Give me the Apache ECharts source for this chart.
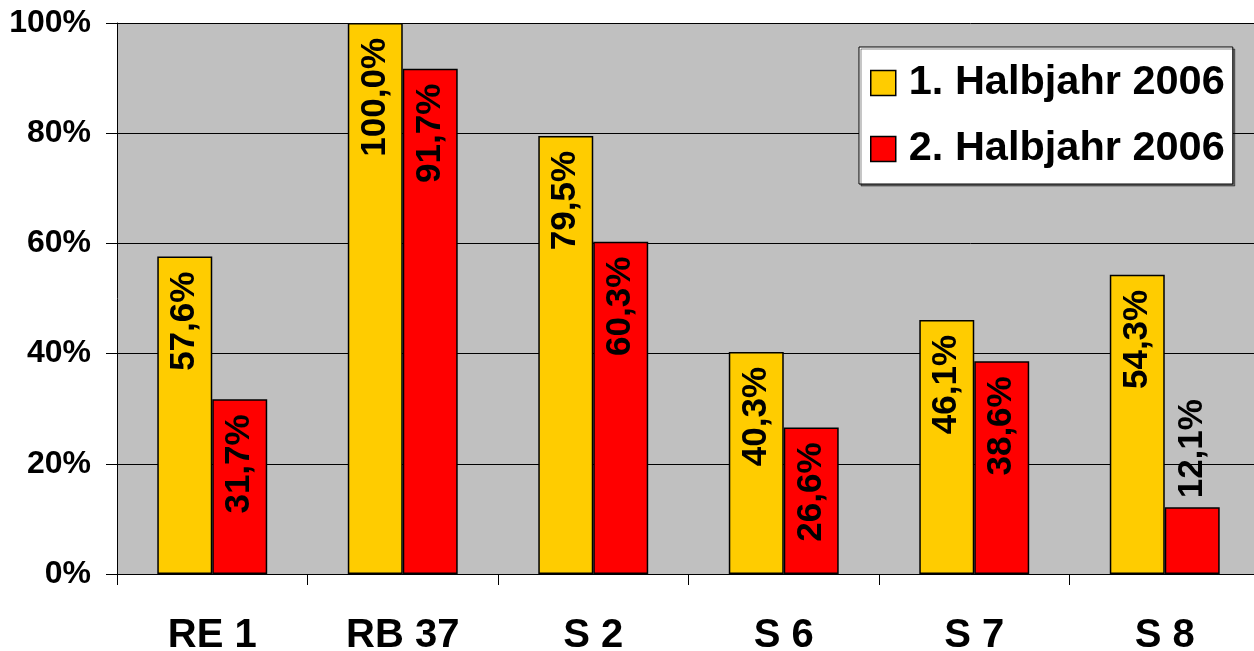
<!DOCTYPE html>
<html><head><meta charset="utf-8">
<script src="https://cdn.jsdelivr.net/npm/echarts@6/dist/echarts.min.js"></script>
<style>html,body{margin:0;padding:0;background:#fff;}#c{width:1254px;height:651px;}</style>
</head><body><div id="c"></div>
<script>
const categories = ['RE 1', 'RB 37', 'S 2', 'S 6', 'S 7', 'S 8'];
const seriesNames = ['1. Halbjahr 2006', '2. Halbjahr 2006'];
const firstHalf = [57.6, 100.0, 79.5, 40.3, 46.1, 54.3];
const secondHalf = [31.7, 91.7, 60.3, 26.6, 38.6, 12.1];
const yTicks = [0, 20, 40, 60, 80, 100];

const FONT = '"Liberation Sans", Arial, sans-serif';
const fmt = v => v.toFixed(1).replace('.', ',') + '%';

function labelFor(values) {
  return values.map(v => {
    const outside = v < 20;
    return {
      value: v,
      label: outside ? {
        position: 'top', rotate: 90, align: 'left', verticalAlign: 'middle', distance: 9
      } : {
        position: 'insideTop', rotate: 90, align: 'right', verticalAlign: 'middle', distance: 15
      }
    };
  });
}

const chart = echarts.init(document.getElementById('c'));
chart.setOption({
  animation: false,
  backgroundColor: '#fff',
  grid: {
    left: 117, right: -6, top: 23, bottom: 77,
    outerBoundsMode: 'none', containLabel: false,
    show: true, backgroundColor: '#C0C0C0', borderWidth: 0
  },
  legend: {
    show: true,
    left: 859, top: 47, orient: 'vertical',
    padding: [15, 8, 14, 11],
    itemWidth: 25, itemHeight: 25, itemGap: 24,
    backgroundColor: '#fff', borderColor: '#000', borderWidth: 1,
    shadowColor: 'rgba(0,0,0,0.45)', shadowOffsetX: 2, shadowOffsetY: 2,
    textStyle: { fontFamily: FONT, fontWeight: 'bold', fontSize: 41.5, color: '#000', padding: [0, 0, 0, 8] },
    data: seriesNames.map(n => ({ name: n, icon: 'rect' })),
    itemStyle: { borderColor: '#000', borderWidth: 1.5 }
  },
  xAxis: {
    type: 'category', data: categories,
    axisLine: { show: true, lineStyle: { color: '#000', width: 1 } },
    axisTick: { show: true, length: 11, lineStyle: { color: '#000' } },
    axisLabel: { margin: 42, fontFamily: FONT, fontWeight: 'bold', fontSize: 40, color: '#000' }
  },
  yAxis: {
    type: 'value', min: 0, max: 100, interval: 20,
    axisLine: { show: true, lineStyle: { color: '#000', width: 1 } },
    axisTick: { show: true, length: 11, lineStyle: { color: '#000' } },
    splitLine: { show: true, lineStyle: { color: '#000', width: 1 } },
    axisLabel: {
      margin: 26, fontFamily: FONT, fontWeight: 'bold', fontSize: 32, color: '#000',
      formatter: v => yTicks.includes(v) ? v + '%' : ''
    }
  },
  series: [
    {
      name: seriesNames[0], type: 'bar', data: labelFor(firstHalf),
      barGap: '0%', barCategoryGap: '42.3%',
      itemStyle: { color: '#FFCC00', borderColor: '#000', borderWidth: 1.5 },
      label: { show: true, fontFamily: FONT, fontWeight: 'bold', fontSize: 35, color: '#000', formatter: p => fmt(p.value) }
    },
    {
      name: seriesNames[1], type: 'bar', data: labelFor(secondHalf),
      barGap: '0%', barCategoryGap: '42.3%',
      itemStyle: { color: '#FF0000', borderColor: '#000', borderWidth: 1.5 },
      label: { show: true, fontFamily: FONT, fontWeight: 'bold', fontSize: 35, color: '#000', formatter: p => fmt(p.value) }
    }
  ]
});
</script></body></html>
